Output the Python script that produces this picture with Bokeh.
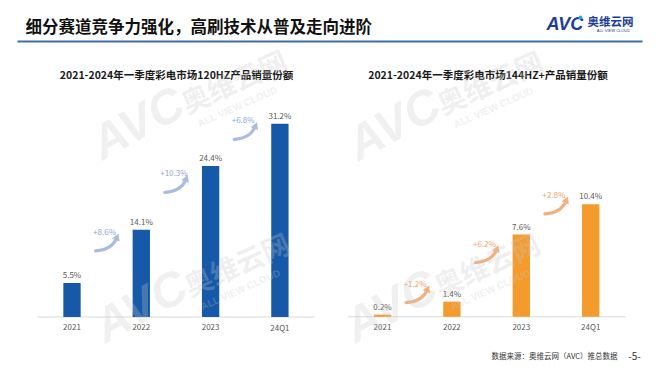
import math
from bokeh.plotting import figure
from bokeh.models import Range1d
from bokeh.core.properties import value
from bokeh.embed import file_html
from bokeh.resources import INLINE

# ---------------- data ----------------
categories = ["2021", "2022", "2023", "24Q1"]
share_120hz = [5.5, 14.1, 24.4, 31.2]
share_144hz = [0.2, 1.4, 7.6, 10.4]

header_title = "细分赛道竞争力强化，高刷技术从普及走向进阶"
left_title = "2021-2024年一季度彩电市场120HZ产品销量份额"
right_title = "2021-2024年一季度彩电市场144HZ+产品销量份额"
source_note = "数据来源：奥维云网（AVC）推总数据"
page_no = "-5-"
logo_main = "AVC"
logo_cn = "奥维云网"
logo_en = "ALL VIEW CLOUD"

# ---------------- layout ----------------
W, H = 652, 364
OX, OY = 0, 0
CJK = value("Noto Sans CJK SC")

p = figure(width=W, height=H,
           x_range=Range1d(OX, OX + W), y_range=Range1d(OY + H, OY),
           x_axis_type=None, y_axis_type=None,
           toolbar_location=None, output_backend="svg",
           min_border=0, outline_line_color=None,
           background_fill_color="white", border_fill_color="white")

charts = {
    "l": dict(x0=71.5, step=69.3, base=316.5, ppu=6.19, vals=share_120hz,
              bar="#1559a8", arrow="#a9bedc", glabel="#8ea8cc", title=left_title, tx=176),
    "r": dict(x0=382.0, step=69.4, base=316.3, ppu=10.82, vals=share_144hz,
              bar="#f49b2e", arrow="#f3b07c", glabel="#f0a36a", title=right_title, tx=487.5),
}

extra_x, extra_y = {}, {}
for k, c in charts.items():
    extra_x[k + "x"] = Range1d(start=(OX - c["x0"]) / c["step"], end=(OX + W - c["x0"]) / c["step"])
    extra_y[k + "y"] = Range1d(start=(c["base"] - (OY + H)) / c["ppu"], end=(c["base"] - OY) / c["ppu"])
p.extra_x_ranges = extra_x
p.extra_y_ranges = extra_y

# ---------------- watermarks ----------------
def watermark(cx, cy):
    ang = 0.42
    p.text(x=[cx], y=[cy], text=[logo_main], angle=0.5, text_font=value("Liberation Sans"),
           text_font_style="bold italic", text_font_size="48px", text_color="#c8c8c8", text_alpha=0.28,
           text_align="center", text_baseline="middle")
    p.text(x=[cx + 96], y=[cy - 42], text=[logo_cn], angle=ang, text_font=CJK,
           text_font_style="bold", text_font_size="28px", text_color="#c8c8c8", text_alpha=0.28,
           text_align="center", text_baseline="middle")
    p.text(x=[cx + 100], y=[cy - 16], text=[logo_en], angle=ang, text_font=value("Liberation Sans"),
           text_font_style="bold", text_font_size="10px", text_color="#c8c8c8", text_alpha=0.28,
           text_align="center", text_baseline="middle")

# ---------------- charts ----------------
for k, c in charts.items():
    xr, yr = k + "x", k + "y"
    vals = c["vals"]
    idx = list(range(len(categories)))
    ppu = c["ppu"]

    # baseline
    p.segment(x0=[-0.5], y0=[0], x1=[len(categories) - 0.5], y1=[0],
              x_range_name=xr, y_range_name=yr, line_color="#d9d9d9", line_width=1)
    # bars
    p.vbar(x=idx, top=vals, bottom=0, width=0.25, x_range_name=xr, y_range_name=yr,
           fill_color=c["bar"], line_color=None)
    # value labels
    p.text(x=idx, y=vals, text=[f"{v:.1f}%" for v in vals], x_range_name=xr, y_range_name=yr,
           y_offset=-3, text_align="center", text_baseline="bottom", text_font=CJK,
           text_font_size="8px", text_color="#595959")
    # category labels
    p.text(x=idx, y=[0] * len(idx), text=categories, x_range_name=xr, y_range_name=yr,
           y_offset=10, text_align="center", text_baseline="middle", text_font=CJK,
           text_font_size="8px", text_color="#595959")
    # growth arrows
    for i in range(len(vals) - 1):
        d = vals[i + 1] - vals[i]
        cval = (vals[i] + vals[i + 1]) / 2 + 12 / ppu
        xs, ys = i + 0.34, cval - 6.5 / ppu
        xe, ye = i + 0.645, cval + 6.5 / ppu
        cxp, cyp = xe - 0.07, ys + 1.0 / ppu
        p.quadratic(x0=[xs], y0=[ys], x1=[xe], y1=[ye], cx=[cxp], cy=[cyp],
                    x_range_name=xr, y_range_name=yr, line_color=c["arrow"], line_width=3.2,
                    line_cap="round")
        dxp = (xe - cxp) * c["step"]
        dyp = (ye - cyp) * ppu
        ang = -math.atan2(dxp, dyp)
        p.scatter(x=[xe], y=[ye], marker="triangle", size=8, angle=ang,
                  x_range_name=xr, y_range_name=yr, fill_color=c["arrow"], line_color=None)
        p.text(x=[i + 0.47], y=[cval], text=[f"+{d:.1f}%"], y_offset=-13,
               x_range_name=xr, y_range_name=yr, text_align="center", text_baseline="middle",
               text_font=CJK, text_font_size="8px", text_color=c["glabel"])
    # chart title
    p.text(x=[c["tx"]], y=[74], text=[c["title"]], text_align="center", text_baseline="middle",
           text_font=CJK, text_font_style="bold", text_font_size="10.5px", text_color="#1a1a1a")

for (wx, wy) in [(137, 122), (140, 305), (393, 123), (390, 305)]:
    watermark(wx, wy)

# ---------------- header ----------------
p.text(x=[25], y=[25], text=[header_title], text_align="left", text_baseline="middle",
       text_font=CJK, text_font_style="bold", text_font_size="16.5px", text_color="#111111")
p.segment(x0=[17], y0=[41], x1=[642], y1=[41], line_color="#3f6fa6", line_width=2)

# logo
p.text(x=[546], y=[23], text=[logo_main], text_align="left", text_baseline="middle",
       text_font=value("Liberation Sans"), text_font_style="bold italic", text_font_size="18px",
       text_color="#1d3f91")
p.scatter(x=[580], y=[17], marker="circle", size=4, fill_color="#2aa7e1", line_color=None)
p.text(x=[587], y=[20.5], text=[logo_cn], text_align="left", text_baseline="middle",
       text_font=CJK, text_font_style="bold", text_font_size="11.5px", text_color="#1d3f91")
p.text(x=[613], y=[30], text=[logo_en], text_align="center", text_baseline="middle",
       text_font=value("Liberation Sans"), text_font_size="4px", text_color="#1d3f91")

# footer
p.text(x=[617], y=[355], text=[source_note], text_align="right", text_baseline="middle",
       text_font=CJK, text_font_size="7.5px", text_color="#333333")
p.text(x=[634], y=[355], text=[page_no], text_align="center", text_baseline="middle",
       text_font=CJK, text_font_size="10px", text_color="#333333")

open("out.html", "w").write(file_html(p, INLINE))
